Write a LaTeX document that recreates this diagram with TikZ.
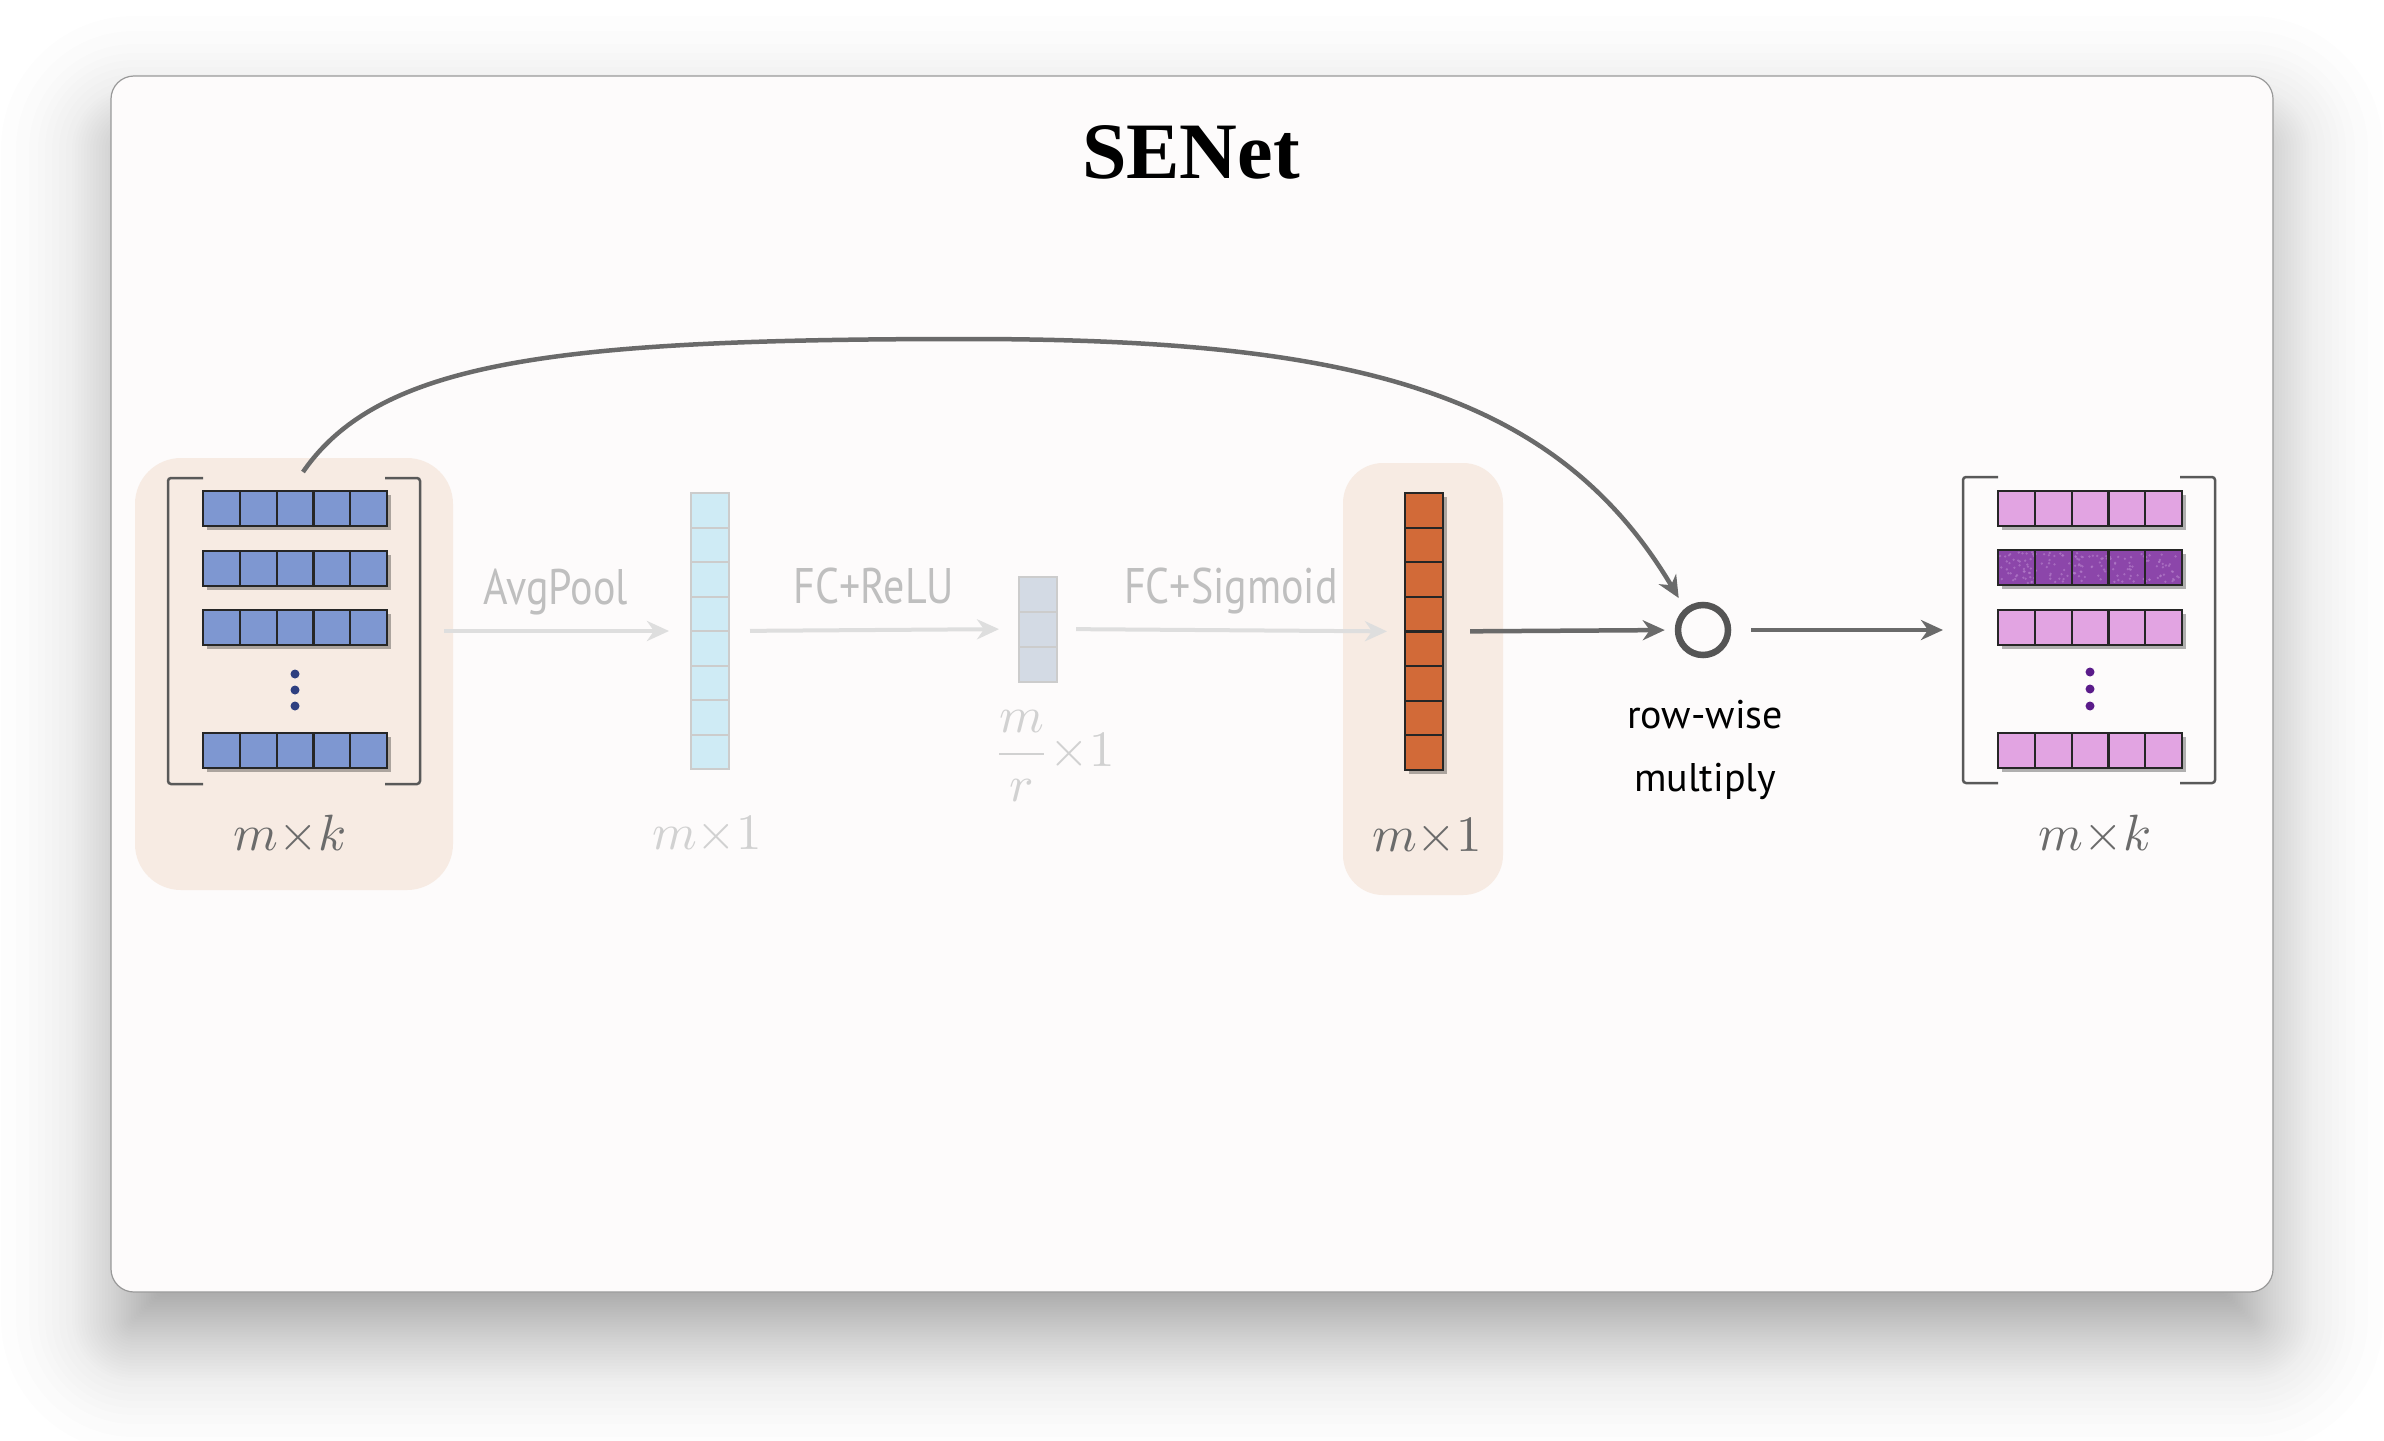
\documentclass[tikz,border=0pt]{standalone}
\usepackage{amsmath}
\usepackage{fontspec}
\usepackage{xcolor}
\usepackage{tikz}
\usetikzlibrary{positioning, calc, arrows.meta}

\newfontfamily\titlefont{Liberation Serif}
\newfontfamily\opfont[FakeStretch=0.84]{PT Sans}
\newfontfamily\notefont{PT Sans}

\definecolor{cardbg}{HTML}{FDFBFB}
\definecolor{peach}{HTML}{F7EBE3}
\definecolor{rowblue}{HTML}{7E97D1}
\definecolor{dotblue}{HTML}{2E3F80}
\definecolor{poolcyan}{HTML}{CFEBF5}
\definecolor{squeezegray}{HTML}{D3DAE4}
\definecolor{gateorange}{HTML}{D26A38}
\definecolor{rowpink}{HTML}{E2A4E2}
\definecolor{rowpurple}{HTML}{8C46AA}
\definecolor{speck}{HTML}{B27BC8}
\definecolor{dotpurple}{HTML}{5A1B8A}
\definecolor{arrowgray}{HTML}{6A6A6A}
\definecolor{ringgray}{HTML}{555555}

\begin{document}
\begin{tikzpicture}[x=1pt, y=-1pt,
  >={Stealth[length=22pt, width=20pt, inset=7pt]},
  hilite/.style={rectangle, rounded corners=46pt, fill=peach, inner sep=0pt},
  frame/.style={rectangle, inner sep=0pt, outer sep=0pt},
  cell/.style={draw=black!85, line width=2.2pt},
  faded/.style={line width=2pt},
  bracket/.style={draw=black!65, line width=2.5pt, rounded corners=3pt},
  flow/.style={->, draw=arrowgray, line width=4.5pt},
  dimflow/.style={->, draw=black!13, line width=4pt},
  opname/.style={font=\opfont\fontsize{50}{56}\selectfont, text=black!25,
    text height=36pt, text depth=11pt},
  dimlabel/.style={text=black!58, inner sep=0pt}]
  % Page and card
  \fill[white] (0,0) rectangle (2384,1440);
  \useasboundingbox (0,0) rectangle (2384,1440);
  \foreach \e [evaluate=\e as \r using {max(23+\e,4)}] in
      {-50,-47.5,...,-2.5,0,3,...,39,45,52,59,66,73,82,95,110}
    \fill[black, opacity=0.0065, rounded corners=\r pt] (111-\e,126-\e) rectangle (2273+\e,1342+\e);
  \fill[cardbg, rounded corners=23pt] (111,76) rectangle (2273,1292);
  \draw[black!40, line width=1.2pt, rounded corners=23pt] (111,76) rectangle (2273,1292);
  \node[font=\titlefont\bfseries\fontsize{80}{90}\selectfont] (title) at (1191,152) {SENet};

  % Input matrix
  \node[hilite, minimum width=318pt, minimum height=432pt] (lbox) at (294,674) {};
  \node[frame, minimum width=252pt, minimum height=306pt] (lmat) at (294,631) {};
  \draw[bracket] ([xshift=35pt]lmat.north west) -- (lmat.north west) -- (lmat.south west) -- ([xshift=35pt]lmat.south west);
  \draw[bracket] ([xshift=-35pt]lmat.north east) -- (lmat.north east) -- (lmat.south east) -- ([xshift=-35pt]lmat.south east);
  \foreach \y in {491,551,610,733} {
    \fill[black, opacity=0.3] (207,\y+4) rectangle +(184,35);
    \foreach \i in {0,...,4}
      \draw[cell, fill=rowblue] (203+36.8*\i,\y) rectangle +(36.8,35);
  }
  \foreach \y in {674,690,706}
    \fill[dotblue] (295,\y) circle (4.5pt);
  \node[dimlabel] (lsize) at (290,835) {\scalebox{5.1}{$m{\times}k$}};

  % Squeeze and excitation (faded)
  \node[frame, minimum width=38pt, minimum height=276pt] (pool) at (710,631) {};
  \foreach \i in {0,...,7}
    \draw[faded, draw=black!20, fill=poolcyan] (691,493+34.5*\i) rectangle +(38,34.5);
  \node[dimlabel, text=black!18] (poolsize) at (707,835) {\scalebox{5.1}{$m{\times}1$}};
  \node[frame, minimum width=38pt, minimum height=105pt] (squeeze) at (1038,629) {};
  \foreach \i in {0,...,2}
    \draw[faded, draw=black!20, fill=squeezegray] (1019,576.5+35*\i) rectangle +(38,35);
  \node[dimlabel, text=black!18] (squeezesize) at (1054,756) {\scalebox{5.1}{$\dfrac{m}{r}{\times}1$}};

  % Channel weights
  \node[hilite, rounded corners=40pt, minimum width=160pt, minimum height=432pt] (obox) at (1423,679) {};
  \node[frame, minimum width=38pt, minimum height=277pt] (gate) at (1424,631.5) {};
  \fill[black, opacity=0.3] (1409,497) rectangle +(38,277);
  \foreach \i in {0,...,7}
    \draw[cell, fill=gateorange] (1405,493+34.6*\i) rectangle +(38,34.6);
  \node[dimlabel] (gatesize) at (1427,837) {\scalebox{5.1}{$m{\times}1$}};

  % Row-wise multiply
  \node[circle, draw=ringgray, line width=6.5pt, minimum size=50pt, inner sep=0pt] (mult) at (1703,630) {};
  \node[font=\notefont\fontsize{40}{63}\selectfont, align=center] (multlabel) at (1705,750) {row-wise\\multiply};

  % Output matrix
  \node[frame, minimum width=252pt, minimum height=306pt] (rmat) at (2089,630) {};
  \draw[bracket] ([xshift=35pt]rmat.north west) -- (rmat.north west) -- (rmat.south west) -- ([xshift=35pt]rmat.south west);
  \draw[bracket] ([xshift=-35pt]rmat.north east) -- (rmat.north east) -- (rmat.south east) -- ([xshift=-35pt]rmat.south east);
  \foreach \y/\c in {491/rowpink,550/rowpurple,610/rowpink,733/rowpink} {
    \fill[black, opacity=0.3] (2002,\y+4) rectangle +(184,35);
    \foreach \i in {0,...,4}
      \draw[cell, fill=\c] (1998+36.8*\i,\y) rectangle +(36.8,35);
  }
  \pgfmathsetseed{7}
  \foreach \k in {1,...,160}
    \fill[speck, opacity=0.7] (2000+180*rnd,552+31*rnd) circle (1.3pt);
  \foreach \i in {1,...,4}
    \draw[black!85, line width=2.2pt] (1998+36.8*\i,550) -- +(0,35);
  \draw[black!85, line width=2.2pt] (1998,550) rectangle +(184,35);
  \foreach \y in {672,689,706}
    \fill[dotpurple] (2090,\y) circle (4.5pt);
  \node[dimlabel] (rsize) at (2095,835) {\scalebox{5.1}{$m{\times}k$}};

  % Arrows
  \draw[dimflow, shorten <=24pt, shorten >=22pt] (lmat.east) -- node[opname, above=10pt] {AvgPool} (pool.west);
  \draw[dimflow, shorten <=21pt, shorten >=20pt] (pool.east) -- node[opname, above=10pt] {FC+ReLU} (squeeze.west);
  \draw[dimflow, shorten <=19pt, shorten >=18pt] (squeeze.east) -- node[opname, above=10pt] {FC+Sigmoid} (gate.west);
  \draw[flow, shorten <=27pt, shorten >=10pt] (gate.east) -- (mult.west);
  \draw[flow, shorten <=20pt, shorten >=20pt] (mult.east) -- (rmat.west);
  % Skip connection
  \coordinate (apex) at (967,339);
  \draw[flow, shorten >=12pt] ([xshift=9pt, yshift=6pt]lmat.north) .. controls (380,360) and (560,339) .. (apex)
    .. controls (1350,339) and (1555,390) .. (mult.130);
\end{tikzpicture}
\end{document}
